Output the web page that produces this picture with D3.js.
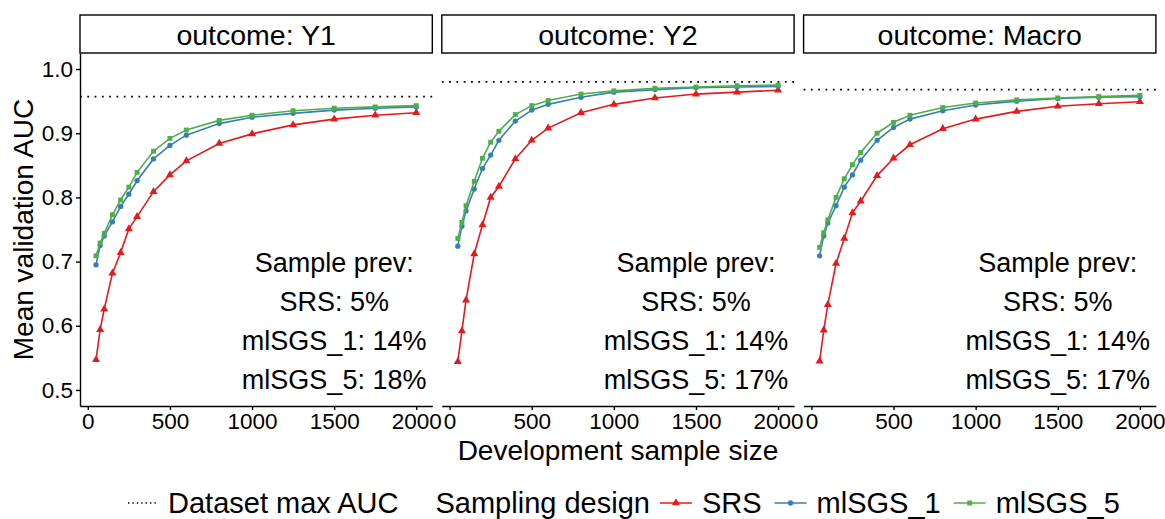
<!DOCTYPE html>
<html>
<head>
<meta charset="utf-8">
<script src="https://cdn.jsdelivr.net/npm/d3@7"></script>
<style>
  body { margin: 0; background: #fff; }
  svg { display: block; }
  text { font-family: "Liberation Sans", Arial, Helvetica, sans-serif; fill: #000; }
</style>
</head>
<body>
<svg id="chart" width="1165" height="519"></svg>
<script>
// Development sample sizes (x) shared by every curve
const sampleSizes = [50, 75, 100, 150, 200, 250, 300, 400, 500, 600, 800, 1000, 1250, 1500, 1750, 2000];

const outcomes = ["Y1", "Y2", "Macro"];
const designs = ["SRS", "mlSGS_1", "mlSGS_5"];

// Mean validation AUC per outcome and sampling design
const y1SRS   = [0.547, 0.594, 0.626, 0.682, 0.714, 0.751, 0.770, 0.809, 0.835, 0.857, 0.884, 0.899, 0.913, 0.922, 0.928, 0.932];
const y1ML1   = [0.695, 0.725, 0.740, 0.762, 0.786, 0.805, 0.826, 0.860, 0.881, 0.897, 0.915, 0.925, 0.931, 0.936, 0.939, 0.941];
const y1ML5   = [0.709, 0.729, 0.744, 0.773, 0.796, 0.816, 0.839, 0.872, 0.892, 0.905, 0.920, 0.928, 0.935, 0.939, 0.941, 0.943];
const y2SRS   = [0.544, 0.592, 0.640, 0.712, 0.757, 0.800, 0.817, 0.860, 0.889, 0.908, 0.932, 0.945, 0.955, 0.961, 0.964, 0.967];
const y2ML1   = [0.724, 0.755, 0.779, 0.813, 0.845, 0.866, 0.889, 0.919, 0.936, 0.945, 0.956, 0.964, 0.968, 0.971, 0.972, 0.973];
const y2ML5   = [0.736, 0.761, 0.787, 0.825, 0.861, 0.886, 0.903, 0.929, 0.943, 0.951, 0.961, 0.966, 0.970, 0.972, 0.974, 0.975];
const macroSRS = [0.545, 0.593, 0.633, 0.697, 0.736, 0.776, 0.794, 0.834, 0.861, 0.882, 0.907, 0.922, 0.934, 0.942, 0.946, 0.949];
const macroML1 = [0.709, 0.740, 0.760, 0.787, 0.816, 0.835, 0.858, 0.889, 0.909, 0.922, 0.935, 0.944, 0.950, 0.954, 0.956, 0.957];
const macroML5 = [0.722, 0.745, 0.765, 0.800, 0.829, 0.851, 0.870, 0.900, 0.917, 0.928, 0.940, 0.947, 0.952, 0.955, 0.957, 0.959];

// Best AUC attainable on the full dataset, per outcome
const datasetMaxAUC = [0.957, 0.980, 0.968];

// Case prevalence within the development samples (%), per outcome
const prevSRS  = [5, 5, 5];
const prevML1  = [14, 14, 14];
const prevML5  = [18, 17, 17];

const yTicks = [0.5, 0.6, 0.7, 0.8, 0.9, 1.0];
const xTicks = [0, 500, 1000, 1500, 2000];

const seriesByOutcome = [
  [y1SRS, y1ML1, y1ML5],
  [y2SRS, y2ML1, y2ML5],
  [macroSRS, macroML1, macroML5]
];

const colors = { "SRS": "#E41A1C", "mlSGS_1": "#377EB8", "mlSGS_5": "#4DAF4A" };
const shapes = { "SRS": d3.symbolTriangle, "mlSGS_1": d3.symbolCircle, "mlSGS_5": d3.symbolSquare };
const symSize = { "SRS": 28, "mlSGS_1": 22, "mlSGS_5": 24 };

// ---- layout ----
const panelW = 352.3, panelGap = 9.5;
const panelLeft = 80;
const stripTop = 15, panelTop = 53, panelBottom = 406;
const tickFont = "22.5px";

const svg = d3.select("#chart");

const x = d3.scaleLinear().domain([-47.5, 2097.5]).range([0, panelW]);
const y = d3.scaleLinear().domain([0.475, 1.025]).range([panelBottom, panelTop]);

const line = d3.line().x(d => x(d[0])).y(d => y(d[1]));

outcomes.forEach((outcome, pi) => {
  const px = panelLeft + pi * (panelW + panelGap);
  const g = svg.append("g").attr("transform", `translate(${px},0)`);

  // strip
  g.append("rect")
    .attr("x", 0).attr("y", stripTop)
    .attr("width", panelW).attr("height", panelTop - stripTop)
    .attr("fill", "#fff").attr("stroke", "#000").attr("stroke-width", 1.4);
  g.append("text")
    .attr("x", panelW / 2).attr("y", (stripTop + panelTop) / 2 + 1)
    .attr("text-anchor", "middle").attr("dominant-baseline", "central")
    .style("font-size", "28.5px")
    .text(`outcome: ${outcome}`);

  // dataset max AUC reference
  g.append("line")
    .attr("x1", 0).attr("x2", panelW)
    .attr("y1", y(datasetMaxAUC[pi])).attr("y2", y(datasetMaxAUC[pi]))
    .attr("stroke", "#000").attr("stroke-width", 1.8)
    .attr("stroke-dasharray", "1.8,5.5");

  // curves
  designs.forEach((des, si) => {
    const vals = seriesByOutcome[pi][si];
    const pts = sampleSizes.map((n, i) => [n, vals[i]]);
    g.append("path")
      .attr("d", line(pts))
      .attr("fill", "none")
      .attr("stroke", colors[des]).attr("stroke-width", 1.6);
    g.selectAll(null).data(pts).enter().append("path")
      .attr("transform", d => `translate(${x(d[0])},${y(d[1])})`)
      .attr("d", d3.symbol().type(shapes[des]).size(symSize[des]))
      .attr("fill", colors[des]);
  });

  // x axis
  const xa = g.append("g")
    .attr("transform", `translate(0,${panelBottom})`)
    .call(d3.axisBottom(x).tickValues(xTicks).tickFormat(d3.format("d"))
      .tickSize(4).tickPadding(3).tickSizeOuter(0));
  xa.select(".domain").attr("stroke", "#000").attr("stroke-width", 1.4);
  xa.selectAll(".tick line").attr("stroke", "#000").attr("stroke-width", 1.4);
  xa.selectAll(".tick text").style("font-size", tickFont).attr("fill", "#000")
    .style("font-family", '"Liberation Sans", Arial, sans-serif');

  // y axis only on first panel
  if (pi === 0) {
    const ya = g.append("g")
      .call(d3.axisLeft(y).tickValues(yTicks).tickFormat(d3.format(".1f"))
        .tickSize(4).tickPadding(3).tickSizeOuter(0));
    ya.select(".domain").attr("stroke", "#000").attr("stroke-width", 1.4);
    ya.selectAll(".tick line").attr("stroke", "#000").attr("stroke-width", 1.4);
    ya.selectAll(".tick text").style("font-size", tickFont).attr("fill", "#000")
      .style("font-family", '"Liberation Sans", Arial, sans-serif');
  }

  // prevalence annotation
  const lines = [
    "Sample prev:",
    `SRS: ${prevSRS[pi]}%`,
    `mlSGS_1: ${prevML1[pi]}%`,
    `mlSGS_5: ${prevML5[pi]}%`
  ];
  const cy = y(0.607);
  const lh = 39;
  lines.forEach((t, i) => {
    g.append("text")
      .attr("x", x(1500))
      .attr("y", cy + (i - 1.5) * lh)
      .attr("text-anchor", "middle").attr("dominant-baseline", "central")
      .style("font-size", "27px")
      .text(t);
  });
});

// axis titles
const plotCenterX = panelLeft + (3 * panelW + 2 * panelGap) / 2;
svg.append("text")
  .attr("x", plotCenterX).attr("y", 460)
  .attr("text-anchor", "middle")
  .style("font-size", "28px")
  .text("Development sample size");

svg.append("text")
  .attr("transform", `translate(33,${(panelTop + panelBottom) / 2}) rotate(-90)`)
  .attr("text-anchor", "middle")
  .style("font-size", "28px")
  .text("Mean validation AUC");

// legend
const legY = 503;
const legFont = "29px";
const leg = svg.append("g");
let lx = 128;
leg.append("line")
  .attr("x1", lx).attr("x2", lx + 28).attr("y1", legY).attr("y2", legY)
  .attr("stroke", "#000").attr("stroke-width", 1.4).attr("stroke-dasharray", "1.4,3");
lx += 40;
const t1 = leg.append("text").attr("x", lx).attr("y", legY)
  .attr("dominant-baseline", "central").style("font-size", legFont).text("Dataset max AUC");
lx += t1.node().getComputedTextLength() + 37;
const t2 = leg.append("text").attr("x", lx).attr("y", legY)
  .attr("dominant-baseline", "central").style("font-size", legFont).text("Sampling design");
lx += t2.node().getComputedTextLength() + 10;
designs.forEach(des => {
  leg.append("line")
    .attr("x1", lx).attr("x2", lx + 32).attr("y1", legY).attr("y2", legY)
    .attr("stroke", colors[des]).attr("stroke-width", 1.6);
  leg.append("path")
    .attr("transform", `translate(${lx + 16},${legY})`)
    .attr("d", d3.symbol().type(shapes[des]).size(symSize[des]))
    .attr("fill", colors[des]);
  lx += 42;
  const t = leg.append("text").attr("x", lx).attr("y", legY)
    .attr("dominant-baseline", "central").style("font-size", legFont).text(des);
  lx += t.node().getComputedTextLength() + 13;
});
</script>
</body>
</html>
